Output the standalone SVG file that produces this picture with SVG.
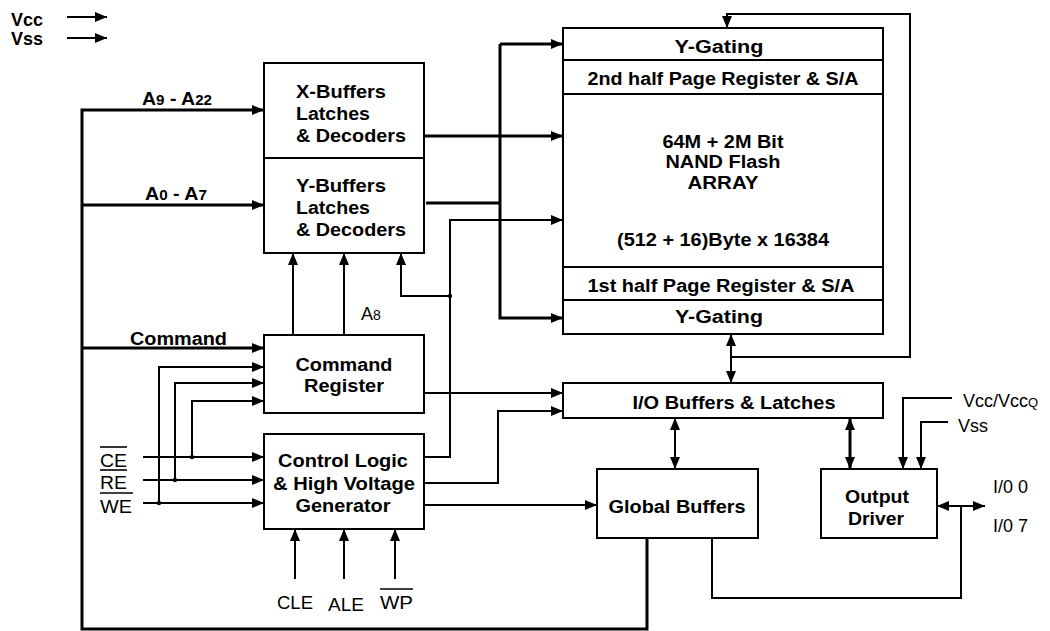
<svg xmlns="http://www.w3.org/2000/svg" width="1050" height="631" viewBox="0 0 1050 631">
<style>
.box{fill:#fff;stroke:#000;stroke-width:2}
.div{stroke:#000;stroke-width:2;fill:none}
.thin{fill:none;stroke:#000;stroke-width:2}
.thick{fill:none;stroke:#000;stroke-width:3}
.b{font-family:"Liberation Sans",Arial,sans-serif;font-weight:bold;font-size:18px;fill:#000}
.r{font-family:"Liberation Sans",Arial,sans-serif;font-size:18px;fill:#000}
.m{text-anchor:middle}
.ol{stroke:#000;stroke-width:1.6}
</style>
<defs>
<marker id="ah" viewBox="0 0 12 10" refX="12" refY="5" markerWidth="12" markerHeight="10" markerUnits="userSpaceOnUse" orient="auto-start-reverse"><path d="M0,0 L12,5 L0,10 z" fill="#000"/></marker>
</defs>

<g id="power-labels">
<text class="b" x="11" y="26" textLength="32" lengthAdjust="spacingAndGlyphs">Vcc</text>
<text class="b" x="11" y="45" textLength="32" lengthAdjust="spacingAndGlyphs">Vss</text>
</g>

<g id="x-buffers">
<rect class="box" x="264" y="63" width="160" height="95"/>
<text class="b" x="296" y="98" textLength="90" lengthAdjust="spacingAndGlyphs">X-Buffers</text>
<text class="b" x="296" y="120" textLength="74" lengthAdjust="spacingAndGlyphs">Latches</text>
<text class="b" x="296" y="142" textLength="110" lengthAdjust="spacingAndGlyphs">&amp; Decoders</text>
</g>
<g id="y-buffers">
<rect class="box" x="264" y="158" width="160" height="95"/>
<text class="b" x="296" y="192" textLength="90" lengthAdjust="spacingAndGlyphs">Y-Buffers</text>
<text class="b" x="296" y="214" textLength="74" lengthAdjust="spacingAndGlyphs">Latches</text>
<text class="b" x="296" y="236" textLength="110" lengthAdjust="spacingAndGlyphs">&amp; Decoders</text>
</g>

<g id="command-register">
<rect class="box" x="264" y="335" width="160" height="78"/>
<text class="b m" x="344" y="371" textLength="97" lengthAdjust="spacingAndGlyphs">Command</text>
<text class="b m" x="344" y="392" textLength="80" lengthAdjust="spacingAndGlyphs">Register</text>
</g>

<g id="control-logic">
<rect class="box" x="264" y="434" width="160" height="95"/>
<text class="b m" x="343" y="467" textLength="130" lengthAdjust="spacingAndGlyphs">Control Logic</text>
<text class="b m" x="344" y="490" textLength="142" lengthAdjust="spacingAndGlyphs">&amp; High Voltage</text>
<text class="b m" x="343" y="512" textLength="95" lengthAdjust="spacingAndGlyphs">Generator</text>
</g>

<g id="nand-array">
<rect class="box" x="563" y="28" width="320" height="306"/>
<line class="div" x1="563" y1="60" x2="883" y2="60"/>
<line class="div" x1="563" y1="94" x2="883" y2="94"/>
<line class="div" x1="563" y1="267" x2="883" y2="267"/>
<line class="div" x1="563" y1="300" x2="883" y2="300"/>
<text class="b m" x="719" y="53" textLength="89" lengthAdjust="spacingAndGlyphs">Y-Gating</text>
<text class="b m" x="723" y="85" textLength="271" lengthAdjust="spacingAndGlyphs">2nd half Page Register &amp; S/A</text>
<text class="b m" x="723" y="148" textLength="121" lengthAdjust="spacingAndGlyphs">64M + 2M Bit</text>
<text class="b m" x="723" y="168" textLength="115" lengthAdjust="spacingAndGlyphs">NAND Flash</text>
<text class="b m" x="723" y="189" textLength="71" lengthAdjust="spacingAndGlyphs">ARRAY</text>
<text class="b m" x="723" y="246" textLength="212" lengthAdjust="spacingAndGlyphs">(512 + 16)Byte x 16384</text>
<text class="b m" x="721" y="292" textLength="267" lengthAdjust="spacingAndGlyphs">1st half Page Register &amp; S/A</text>
<text class="b m" x="719" y="323" textLength="88" lengthAdjust="spacingAndGlyphs">Y-Gating</text>
</g>

<g id="io-buffers">
<rect class="box" x="563" y="383" width="320" height="35"/>
<text class="b m" x="734" y="409" textLength="203" lengthAdjust="spacingAndGlyphs">I/O Buffers &amp; Latches</text>
</g>

<g id="global-buffers">
<rect class="box" x="597" y="469" width="161" height="69"/>
<text class="b m" x="677" y="513" textLength="137" lengthAdjust="spacingAndGlyphs">Global Buffers</text>
</g>

<g id="output-driver">
<rect class="box" x="821" y="469" width="116" height="69"/>
<text class="b m" x="877" y="503" textLength="64" lengthAdjust="spacingAndGlyphs">Output</text>
<text class="b m" x="876" y="525" textLength="56" lengthAdjust="spacingAndGlyphs">Driver</text>
</g>

<g id="signal-labels">
<text class="b" x="142" y="105" textLength="70" lengthAdjust="spacingAndGlyphs">A<tspan font-size="14">9</tspan> - A<tspan font-size="14">22</tspan></text>
<text class="b" x="145" y="200" textLength="62" lengthAdjust="spacingAndGlyphs">A<tspan font-size="14">0</tspan> - A<tspan font-size="14">7</tspan></text>
<text class="b" x="130" y="345" textLength="97" lengthAdjust="spacingAndGlyphs">Command</text>
<text class="r" x="361" y="320">A<tspan font-size="14">8</tspan></text>
<text class="r" x="100" y="467" textLength="27" lengthAdjust="spacingAndGlyphs">CE</text>
<text class="r" x="100" y="489" textLength="27" lengthAdjust="spacingAndGlyphs">RE</text>
<text class="r" x="100" y="513" textLength="32" lengthAdjust="spacingAndGlyphs">WE</text>
<line class="ol" x1="100" y1="447" x2="127" y2="447"/>
<line class="ol" x1="100" y1="470" x2="127" y2="470"/>
<line class="ol" x1="100" y1="493" x2="133" y2="493"/>
<text class="r" x="277" y="609" textLength="36" lengthAdjust="spacingAndGlyphs">CLE</text>
<text class="r" x="328" y="611" textLength="36" lengthAdjust="spacingAndGlyphs">ALE</text>
<text class="r" x="380" y="609" textLength="33" lengthAdjust="spacingAndGlyphs">WP</text>
<line class="ol" x1="380" y1="589" x2="413" y2="589"/>
<text class="r" x="963" y="407">Vcc/Vcc<tspan font-size="13">Q</tspan></text>
<text class="r" x="958" y="432">Vss</text>
<text class="r" x="993" y="493" textLength="35" lengthAdjust="spacingAndGlyphs">I/0 0</text>
<text class="r" x="993" y="532" textLength="35" lengthAdjust="spacingAndGlyphs">I/0 7</text>
</g>

<g id="connectors">
<path class="thin" d="M67,17 H107" marker-end="url(#ah)"/>
<path class="thin" d="M67,38 H107" marker-end="url(#ah)"/>
<path class="thick" d="M647,538 V629 H82 V110 H264" marker-end="url(#ah)"/>
<path class="thick" d="M82,205 H264" marker-end="url(#ah)"/>
<path class="thick" d="M82,348 H264" marker-end="url(#ah)"/>
<path class="thick" d="M424,136 H563" marker-end="url(#ah)"/>
<path class="thick" d="M426,203 H500"/>
<path class="thick" d="M500,44 V318 H563" marker-end="url(#ah)"/>
<path class="thick" d="M500,44 H563" marker-end="url(#ah)"/>
<path class="thin" d="M424,457 H450 V220 H563" marker-end="url(#ah)"/>
<path class="thin" d="M450,296 H401 V253" marker-end="url(#ah)"/>
<path class="thin" d="M293,335 V253" marker-end="url(#ah)"/>
<path class="thin" d="M344,335 V253" marker-end="url(#ah)"/>
<path class="thin" d="M424,393 H563" marker-end="url(#ah)"/>
<path class="thin" d="M424,483 H498 V411 H563" marker-end="url(#ah)"/>
<path class="thin" d="M424,505 H597" marker-end="url(#ah)"/>
<path class="thin" d="M143,457 H264" marker-end="url(#ah)"/>
<path class="thin" d="M143,480 H264" marker-end="url(#ah)"/>
<path class="thin" d="M143,503 H264" marker-end="url(#ah)"/>
<path class="thin" d="M159,503 V367 H264" marker-end="url(#ah)"/>
<path class="thin" d="M175,480 V383 H264" marker-end="url(#ah)"/>
<path class="thin" d="M192,457 V401 H264" marker-end="url(#ah)"/>
<path class="thin" d="M295,579 V529" marker-end="url(#ah)"/>
<path class="thin" d="M344,579 V529" marker-end="url(#ah)"/>
<path class="thin" d="M395,579 V529" marker-end="url(#ah)"/>
<path class="thin" d="M731,357 H910 V14 H727 V28" marker-end="url(#ah)"/>
<path class="thin" d="M731,334 V383" marker-start="url(#ah)" marker-end="url(#ah)"/>
<path class="thin" d="M675,418 V469" marker-start="url(#ah)" marker-end="url(#ah)"/>
<path class="thick" d="M850,418 V469" marker-start="url(#ah)" marker-end="url(#ah)"/>
<path class="thin" d="M952,398 H903 V469" marker-end="url(#ah)"/>
<path class="thin" d="M948,422 H921 V469" marker-end="url(#ah)"/>
<path class="thin" d="M937,506 H985" marker-start="url(#ah)" marker-end="url(#ah)"/>
<path class="thin" d="M712,538 V598 H961 V506"/>
<circle cx="450" cy="296" r="2.2"/>
<circle cx="159" cy="503" r="2.2"/>
<circle cx="175" cy="480" r="2.2"/>
<circle cx="192" cy="457" r="2.2"/>
</g>
</svg>
